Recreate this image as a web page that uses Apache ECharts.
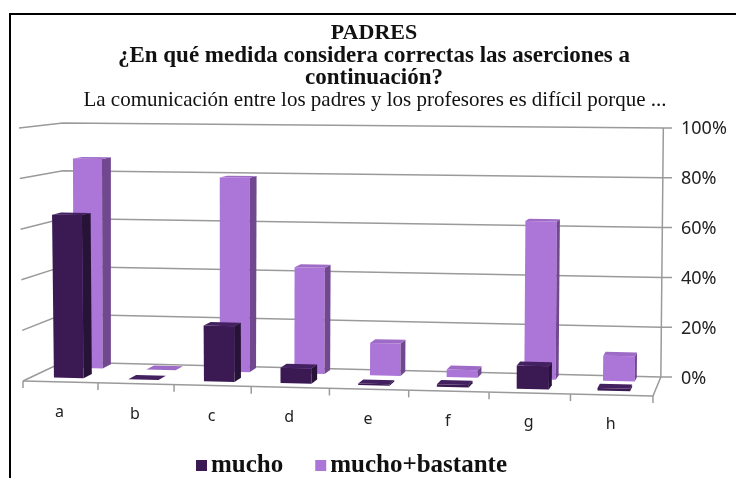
<!DOCTYPE html>
<html><head><meta charset="utf-8">
<style>html,body{margin:0;padding:0;background:#fff;overflow:hidden}#c{width:736px;height:478px}</style>
<script src="https://cdn.jsdelivr.net/npm/echarts@6/dist/echarts.min.js"></script>
</head><body><div id="c"></div>
<script>
const categories = ['a','b','c','d','e','f','g','h'];
const mucho = [65, 0, 22, 6, 0.5, 1, 9, 1];
const muchoBastante = [86, 0, 79, 43, 13, 3, 63, 10];
const yTicks = [0, 20, 40, 60, 80, 100];
const titleLines = ['PADRES','¿En qué medida considera correctas las aserciones a','continuación?'];
const subtitle = 'La comunicación entre los padres y los profesores es difícil porque ...';

const G = {left: 23, width: 630, top: 127, height: 250};
const serif = '"Liberation Serif", serif';
const sans = '"Noto Sans", sans-serif';

// Pseudo-3D projection of (band position u, depth d, axis value v) to pixels.
function P(u, d, v) {
  const xf = 23 + 75 * u + 1.07 * u * (u - 1) / 2;
  const xb = 63 + 0.949 * (xf - 23);
  const t = u / 8;
  const x = xf + (xb - xf) * d + v / 100 * (-4 * (1 - t) * (1 - d) + 2.5 * t);
  const s = 2.53 + 0.1 * t - 0.14 * d;
  return [x, 381 + 15 * t - 19 * d - s * v];
}
function toUV(api, i, v) {
  const p = api.coord([i, v]);
  return [(p[0] - G.left) / (G.width / categories.length), (G.top + G.height - p[1]) / (G.height / 100)];
}
const poly = (points, fill) => ({type: 'polygon', shape: {points}, style: {fill}});
const line = (points, stroke, w) => ({type: 'polyline', shape: {points}, style: {stroke, lineWidth: w, fill: 'none'}});

function barRenderer(d0, front, side, top) {
  return function (params, api) {
    const i = api.value(0), uv = toUV(api, i, api.value(1));
    const c = uv[0], v = uv[1], h = 0.2, d1 = d0 + 0.22;
    return {type: 'group', children: [
      poly([P(c-h,d0,0),P(c+h,d0,0),P(c+h,d0,v),P(c-h,d0,v)], front),
      poly([P(c+h,d0,0),P(c+h,d1,0),P(c+h,d1,v),P(c+h,d0,v)], side),
      poly([P(c-h,d0,v),P(c+h,d0,v),P(c+h,d1,v),P(c-h,d1,v)], top)
    ]};
  };
}
const GRID = '#9a9a9a';
function gridRenderer(params, api) {
  const v = toUV(api, 0, api.value(0))[1], n = categories.length;
  const end = P(n, 1, v);
  return line([P(0,0,v), P(0,1,v), end, [672, end[1]]], GRID, 1.5);
}
function frameRenderer(params, api) {
  const n = categories.length, top = toUV(api, 0, yTicks[yTicks.length-1])[1];
  const kids = [
    line([P(0,0,0), P(n,0,0), P(n,1,0), P(n,1,top)], GRID, 1.5)
  ];
  for (let k = 0; k <= n; k++) {
    const a = P(k,0,0);
    kids.push(line([a, [a[0], a[1] + 7]], GRID, 1.5));
  }
  categories.forEach((name, k) => {
    const uv = toUV(api, k, 0), a = P(uv[0], 0, 0);
    kids.push({type:'text', style:{text:name, x:a[0]-1, y:a[1]+31-2*uv[0]/8, align:'center', verticalAlign:'middle',
      font:'16px '+sans, fill:'#222'}});
  });
  return {type:'group', children:kids};
}
const titles = titleLines.map((text, k) => ({
  text, left: 369, top: [16, 39, 61][k], textAlign: 'center',
  textStyle: {fontFamily: serif, fontWeight: 'bold', fontSize: k ? 23 : 22, color: '#111', lineHeight: 24}
}));
titles.push({text: subtitle, left: 370, top: 83, textAlign: 'center',
  textStyle: {fontFamily: serif, fontWeight: 'normal', fontSize: 21, color: '#111', lineHeight: 24}});

const chart = echarts.init(document.getElementById('c'), null, {renderer: 'canvas'});
chart.setOption({
  animation: false,
  backgroundColor: '#fff',
  title: titles,
  graphic: [{type:'rect', shape:{x:10,y:14,width:800,height:520}, style:{fill:'none',stroke:'#000',lineWidth:2}, silent:true, z:-1}],
  legend: {left: 191, top: 448, itemWidth: 11, itemHeight: 11, itemGap: 32, icon: 'rect',
    data: ['mucho','mucho+bastante'],
    textStyle: {fontFamily: serif, fontWeight: 'bold', fontSize: 25, color: '#111', padding: [0,0,0,-1]}},
  grid: {left: G.left, width: G.width, top: G.top, height: G.height},
  xAxis: {type: 'category', data: categories, axisLine:{show:false}, axisTick:{show:false}, axisLabel:{show:false}},
  yAxis: {type: 'value', position: 'right', min: 0, max: 100, interval: 20, splitLine:{show:false},
    axisLine:{show:false}, axisTick:{show:false},
    axisLabel:{formatter: v => '{a|' + v + '%}', margin: 28, align:'left', color:'#222',
      rich:{a:{fontFamily: sans, fontSize: 18, color:'#222', padding:[4,0,0,0]}}}},
  series: [
    {type:'custom', name:'grid', silent:true, z:1, clip:false, data: yTicks.map(v=>[v]), encode:{y:0}, renderItem: gridRenderer},
    {type:'custom', name:'frame', silent:true, z:1, clip:false, data:[[0]], renderItem: frameRenderer},
    {type:'custom', name:'mucho+bastante', z:2, clip:false, itemStyle:{color:'#AC76D8'},
      data: muchoBastante.map((v,i)=>[i,v]), encode:{x:0,y:1}, renderItem: barRenderer(0.73,'#AC76D8','#71488F','#9E6BC6')},
    {type:'custom', name:'mucho', z:3, clip:false, itemStyle:{color:'#3B1A54'},
      data: mucho.map((v,i)=>[i,v]), encode:{x:0,y:1}, renderItem: barRenderer(0.22,'#3B1A54','#271238','#43205F')}
  ]
});
</script></body></html>
